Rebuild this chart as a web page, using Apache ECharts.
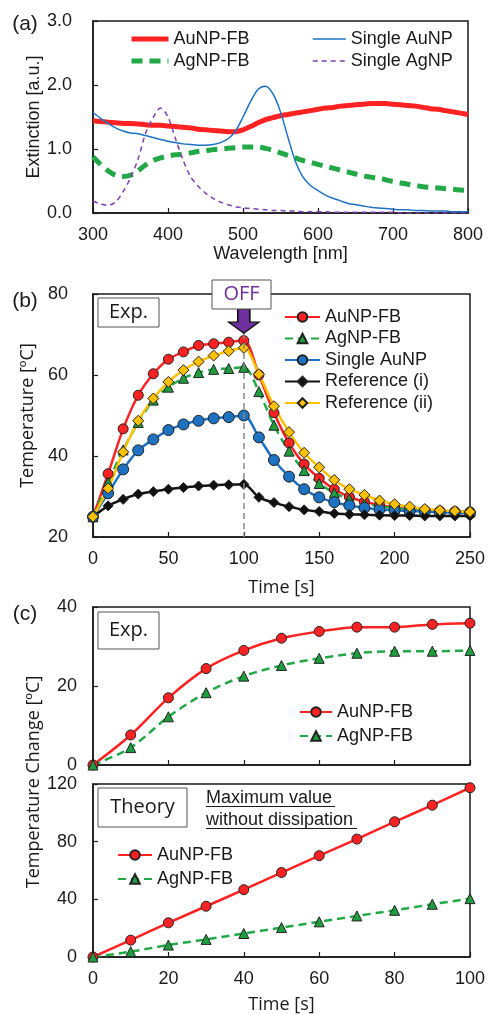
<!DOCTYPE html>
<html>
<head>
<meta charset="utf-8">
<script src="https://cdn.jsdelivr.net/npm/echarts@6/dist/echarts.min.js"></script>
<style>
html, body { margin: 0; padding: 0; background: #fff; }
#chart { width: 488px; height: 1014px; }
</style>
</head>
<body>
<div id="chart"></div>
<script>
// (a) extinction spectra, read every 10 nm
const wavelength = [300, 310, 320, 330, 340, 350, 360, 370, 380, 390,
  400, 410, 420, 430, 440, 450, 460, 470, 480, 490,
  500, 510, 520, 530, 540, 550, 560, 570, 580, 590,
  600, 610, 620, 630, 640, 650, 660, 670, 680, 690,
  700, 710, 720, 730, 740, 750, 760, 770, 780, 790, 800]
const extAuFB = [1.44, 1.43, 1.42, 1.41, 1.40, 1.40, 1.39, 1.38, 1.37, 1.37,
  1.36, 1.35, 1.34, 1.33, 1.31, 1.30, 1.29, 1.28, 1.27, 1.27,
  1.30, 1.35, 1.41, 1.46, 1.49, 1.52, 1.54, 1.56, 1.58, 1.60,
  1.62, 1.64, 1.65, 1.67, 1.68, 1.69, 1.70, 1.71, 1.71, 1.71,
  1.70, 1.69, 1.68, 1.67, 1.65, 1.63, 1.62, 1.60, 1.58, 1.56, 1.54]
const extAgFB = [0.88, 0.76, 0.66, 0.59, 0.57, 0.59, 0.66, 0.75, 0.82, 0.86,
  0.89, 0.91, 0.92, 0.94, 0.96, 0.97, 0.99, 1.00, 1.01, 1.02,
  1.03, 1.03, 1.03, 1.01, 0.98, 0.94, 0.90, 0.86, 0.82, 0.79,
  0.76, 0.73, 0.70, 0.67, 0.64, 0.61, 0.58, 0.56, 0.54, 0.52,
  0.49, 0.47, 0.45, 0.43, 0.41, 0.40, 0.39, 0.38, 0.37, 0.36, 0.35]
const extSingleAu = [1.57, 1.48, 1.40, 1.33, 1.28, 1.25, 1.24, 1.21, 1.18, 1.15,
  1.12, 1.10, 1.08, 1.07, 1.06, 1.06, 1.07, 1.10, 1.16, 1.28,
  1.50, 1.74, 1.93, 1.98, 1.86, 1.58, 1.18, 0.80, 0.56, 0.43,
  0.35, 0.28, 0.23, 0.19, 0.15, 0.13, 0.11, 0.09, 0.08, 0.07,
  0.06, 0.05, 0.05, 0.04, 0.04, 0.03, 0.03, 0.03, 0.02, 0.02, 0.02]
const extSingleAg = [0.19, 0.14, 0.12, 0.17, 0.33, 0.55, 0.84, 1.24, 1.49, 1.64,
  1.50, 1.16, 0.83, 0.57, 0.42, 0.31, 0.23, 0.17, 0.13, 0.10,
  0.08, 0.07, 0.06, 0.05, 0.04, 0.04, 0.03, 0.03, 0.02, 0.02,
  0.02, 0.02, 0.01, 0.01, 0.01, 0.01, 0.01, 0.01, 0.01, 0.01,
  0.01, 0, 0, 0, 0, 0, 0, 0, 0, 0, 0]

// (b) heating / cooling curves, light off at 100 s
const timeB = [0, 10, 20, 30, 40, 50, 60, 70, 80, 90, 100, 110, 120,
  130, 140, 150, 160, 170, 180, 190, 200, 210, 220, 230, 240, 250]
const tempAuFB = [25, 35.6, 46.7, 55, 60.3, 63.9, 65.7, 67.3, 67.7, 68.1, 68.5, 60, 50.7,
  43.2, 38, 34.5, 31.8, 29.9, 28.7, 27.9, 27.3, 26.9, 26.6, 26.4, 26.3, 26.2]
const tempAgFB = [25, 33.5, 41.5, 48.3, 53.8, 57, 59.2, 60.6, 61.4, 61.6, 61.9, 55.9, 47.6,
  41.2, 36.4, 33.2, 30.9, 29.4, 28.3, 27.6, 27.1, 26.8, 26.6, 26.4, 26.3, 26.2]
const tempSingleAu = [25, 30.8, 36.7, 41.4, 44.1, 46.4, 47.8, 48.7, 49.3, 49.6, 50, 44.6, 39,
  34.9, 31.8, 29.8, 28.6, 27.8, 27.2, 26.8, 26.6, 26.4, 26.3, 26.1, 26, 25.9]
const tempRef1 = [25, 27.7, 29.3, 30.6, 31.2, 31.8, 32.2, 32.6, 32.8, 32.9, 33, 29.8, 28.5,
  27.5, 26.7, 26.3, 25.8, 25.6, 25.5, 25.4, 25.3, 25.3, 25.2, 25.2, 25.2, 25.2]
const tempRef2 = [25, 32, 41, 48.7, 54.2, 58.3, 61.2, 63.3, 64.8, 65.9, 66.7, 60.2, 52.3,
  45.9, 40.8, 37.2, 34.1, 31.8, 30.4, 29, 28.1, 27.5, 26.9, 26.6, 26.4, 26.2]

// (c) temperature change, experiment vs theory
const timeC = [0, 10, 20, 30, 40, 50, 60, 70, 80, 90, 100]
const expAuFB = [0, 7.6, 17, 24.4, 29, 32.1, 33.8, 34.9, 34.9, 35.6, 35.9]
const expAgFB = [0, 4.4, 12.2, 18.3, 22.5, 25.2, 27, 28.3, 28.8, 28.8, 29]
const theoryAuFB = [0, 11.7, 23.7, 35.2, 46.7, 58.6, 70.3, 81.8, 93.8, 105.3, 117.4]
const theoryAgFB = [0, 3.7, 8.3, 12.2, 16.3, 20.4, 24.4, 28.5, 32.4, 36.6, 40.5]

const INK = '#1a1a1a'
const FONT = '"Liberation Sans", Arial, sans-serif'
const TFONT = '"Open Sans", "Liberation Sans", sans-serif'
const RED = '#FF2222'
const GREEN = '#22A846'
const BLUE = '#1D72C2'
const YELLOW = '#FFC000'
const PURPLE = '#7030A0'

const pairs = (xs, ys) => xs.map((x, i) => [x, ys[i]])
const shortName = (n) => n.split('|')[1]

function xAxisOf(grid, min, max, interval, extra) {
  return Object.assign({
    gridIndex: grid, type: 'value', min, max, interval,
    axisLine: { show: true, lineStyle: { color: INK, width: 1.5 } },
    axisTick: { show: true, inside: true, length: 5, lineStyle: { color: INK, width: 1.2 } },
    axisLabel: { color: INK, fontSize: 18, fontFamily: FONT, margin: 13 },
    splitLine: { show: false },
    nameLocation: 'middle',
    nameTextStyle: { color: INK, fontSize: 18, fontFamily: TFONT }
  }, extra)
}

function yAxisOf(grid, min, max, interval, extra) {
  return Object.assign({
    gridIndex: grid, type: 'value', min, max, interval,
    axisLine: { show: true, lineStyle: { color: INK, width: 1.5 } },
    axisTick: { show: true, inside: true, length: 5, lineStyle: { color: INK, width: 1.2 } },
    axisLabel: { color: INK, fontSize: 18, fontFamily: FONT, margin: 16 },
    splitLine: { show: false },
    nameLocation: 'middle',
    nameMoveOverlap: false,
    nameTextStyle: { color: INK, fontSize: 18, fontFamily: TFONT }
  }, extra)
}

function markerLine(name, xi, xs, ys, color, symbol, size, dashed, extra) {
  return Object.assign({
    name, type: 'line', xAxisIndex: xi, yAxisIndex: xi,
    data: pairs(xs, ys), smooth: 0.3,
    symbol, symbolSize: size,
    lineStyle: { color, width: 2.5, type: dashed ? [8, 5] : 'solid' },
    itemStyle: { color, borderColor: '#222', borderWidth: 1 }
  }, extra)
}

function plainLine(name, ys, color, width, type) {
  return {
    name, type: 'line', xAxisIndex: 0, yAxisIndex: 0,
    data: pairs(wavelength, ys), smooth: 0.3, symbol: 'none',
    lineStyle: { color, width, type },
    itemStyle: { color }
  }
}

function legendOf(names, left, top, itemWidth, gap, extra) {
  return Object.assign({
    orient: 'vertical', left, top, itemWidth, itemHeight: 12, itemGap: gap, padding: 0,
    selectedMode: false, data: names, formatter: shortName,
    textStyle: { color: INK, fontSize: 18, fontFamily: FONT }
  }, extra)
}

function box(x, y, w, h, text, size, color) {
  return [
    { type: 'rect', z: 100, shape: { x, y, width: w, height: h },
      style: { fill: '#fff', stroke: '#555', lineWidth: 1 } },
    { type: 'text', z: 101, x: x + w / 2, y: y + h / 2,
      style: { text, fill: color || INK, fontSize: size, fontFamily: TFONT, align: 'center', verticalAlign: 'middle' } }
  ]
}

function label(x, y, text, size, font, rotation) {
  return { type: 'text', z: 101, x, y, rotation: rotation || 0,
    style: { text, fill: INK, fontSize: size, fontFamily: font, align: 'center', verticalAlign: 'middle' } }
}

const chart = echarts.init(document.getElementById('chart'))

const gridBase = { show: true, borderColor: INK, borderWidth: 1.5, outerBoundsMode: 'none', containLabel: false }
// the spectra have no markers; thick lines keep their width in the key
const thickKey = { itemStyle: { opacity: 0 }, lineStyle: { width: 5 } }
const thinKey = { itemStyle: { opacity: 0 }, lineStyle: { width: 1.5 } }

chart.setOption({
  animation: false,
  backgroundColor: '#fff',
  grid: [
    Object.assign({ left: 93, top: 21, width: 375, height: 192 }, gridBase),
    Object.assign({ left: 93, top: 294, width: 377, height: 243 }, gridBase),
    Object.assign({ left: 93, top: 607, width: 377, height: 158 }, gridBase),
    Object.assign({ left: 93, top: 784, width: 377, height: 173 }, gridBase)
  ],
  xAxis: [
    xAxisOf(0, 300, 800, 100, { name: 'Wavelength [nm]', nameGap: 32,
      nameTextStyle: { color: INK, fontSize: 18, fontFamily: FONT } }),
    xAxisOf(1, 0, 250, 50, { name: 'Time [s]', nameGap: 42 }),
    xAxisOf(2, 0, 100, 20, { axisLabel: { show: false } }),
    xAxisOf(3, 0, 100, 20, { name: 'Time [s]', nameGap: 39 })
  ],
  yAxis: [
    yAxisOf(0, 0, 3, 1, { name: 'Extinction [a.u.]', nameGap: 50,
      axisLabel: { color: INK, fontSize: 18, fontFamily: FONT, margin: 21, formatter: (v) => v.toFixed(1) },
      nameTextStyle: { color: INK, fontSize: 18, fontFamily: FONT } }),
    yAxisOf(1, 20, 80, 20, { name: 'Temperature [ºC]', nameGap: 56,
      axisLabel: { color: INK, fontSize: 18, fontFamily: FONT, margin: 25 } }),
    yAxisOf(2, 0, 40, 20),
    yAxisOf(3, 0, 120, 40)
  ],
  legend: [
    legendOf(['a|AuNP-FB'], 129, 30, 37, 4, thickKey),
    legendOf(['a|AgNP-FB'], 129, 52, 37, 4, thickKey),
    legendOf(['a|Single AuNP', 'a|Single AgNP'], 312, 30, 33, 4, thinKey),
    legendOf(['b|AuNP-FB', 'b|AgNP-FB', 'b|Single AuNP', 'b|Reference (i)', 'b|Reference (ii)'], 284, 308, 35, 3.5),
    legendOf(['c|AuNP-FB', 'c|AgNP-FB'], 299, 703, 32, 6),
    legendOf(['d|AuNP-FB', 'd|AgNP-FB'], 117, 846, 34, 6)
  ],
  series: [
    plainLine('a|AuNP-FB', extAuFB, RED, 5, 'solid'),
    plainLine('a|AgNP-FB', extAgFB, GREEN, 5, [11, 7]),
    plainLine('a|Single AuNP', extSingleAu, BLUE, 1.5, 'solid'),
    plainLine('a|Single AgNP', extSingleAg, '#7F3FB5', 1.5, [5, 4]),

    markerLine('b|AuNP-FB', 1, timeB, tempAuFB, RED, 'circle', 10, false, {
      markLine: {
        silent: true, symbol: 'none', label: { show: false },
        lineStyle: { color: '#888', width: 1.5, type: [6, 4] },
        data: [[{ coord: [100, 70.4] }, { coord: [100, 20] }]]
      },
      markPoint: {
        silent: true, label: { show: false },
        symbol: 'path://M9,0 L21,0 L21,13 L30,13 L15,24 L0,13 L9,13 Z',
        symbolSize: [30, 24], symbolKeepAspect: false,
        itemStyle: { color: PURPLE, borderColor: '#111', borderWidth: 1.5 },
        data: [{ coord: [100, 73.3] }]
      }
    }),
    markerLine('b|AgNP-FB', 1, timeB, tempAgFB, GREEN, 'triangle', 10, true, { itemStyle: { color: '#1F9E40', borderColor: '#222', borderWidth: 1 } }),
    markerLine('b|Single AuNP', 1, timeB, tempSingleAu, BLUE, 'circle', 11, false),
    markerLine('b|Reference (i)', 1, timeB, tempRef1, '#111', 'diamond', 10, false),
    markerLine('b|Reference (ii)', 1, timeB, tempRef2, YELLOW, 'diamond', 11, false),

    markerLine('c|AuNP-FB', 2, timeC, expAuFB, RED, 'circle', 10, false),
    markerLine('c|AgNP-FB', 2, timeC, expAgFB, GREEN, 'triangle', 10, true, { itemStyle: { color: '#1F9E40', borderColor: '#222', borderWidth: 1 } }),
    markerLine('d|AuNP-FB', 3, timeC, theoryAuFB, RED, 'circle', 10, false),
    markerLine('d|AgNP-FB', 3, timeC, theoryAgFB, GREEN, 'triangle', 10, true, { itemStyle: { color: '#1F9E40', borderColor: '#222', borderWidth: 1 } })
  ],
  graphic: [
    label(25, 24, '(a)', 21, FONT),
    label(25, 301, '(b)', 21, FONT),
    label(25, 614, '(c)', 21, FONT),
    label(34, 782, 'Temperature Change [ºC]', 18, TFONT, Math.PI / 2),
    ...box(212, 280, 59, 29, 'OFF', 20, PURPLE),
    ...box(98, 298, 61, 29, 'Exp.', 20),
    ...box(98, 612, 61, 37, 'Exp.', 20),
    ...box(98, 788, 89, 39, 'Theory', 20),
    { type: 'text', z: 101, x: 206, y: 798,
      style: { text: 'Maximum value', fill: INK, fontSize: 18, fontFamily: FONT, verticalAlign: 'middle' } },
    { type: 'text', z: 101, x: 206, y: 820,
      style: { text: 'without dissipation', fill: INK, fontSize: 18, fontFamily: FONT, verticalAlign: 'middle' } },
    { type: 'line', z: 101, shape: { x1: 206, y1: 806.5, x2: 335, y2: 806.5 }, style: { stroke: INK, lineWidth: 1 } },
    { type: 'line', z: 101, shape: { x1: 206, y1: 828.5, x2: 357, y2: 828.5 }, style: { stroke: INK, lineWidth: 1 } }
  ]
})
</script>
</body>
</html>
